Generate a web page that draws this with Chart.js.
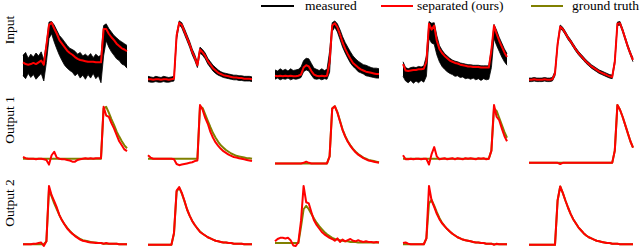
<!DOCTYPE html>
<html>
<head>
<meta charset="utf-8">
<script src="https://cdn.jsdelivr.net/npm/chart.js@4.4.0/dist/chart.umd.min.js"></script>
<style>
  body { margin: 0; width: 640px; height: 249px; overflow: hidden; background: #fff; position: relative;
         font-family: "Liberation Serif", "Times New Roman", serif; }
  canvas { position: absolute; }
  .txt { position: absolute; font-size: 13.5px; line-height: 1; white-space: nowrap; color: #000; }
  .key { position: absolute; height: 2px; }
  .rowlab { position: absolute; font-size: 13.5px; line-height: 1; white-space: nowrap;
            transform: translate(-50%, -50%) rotate(-90deg); }
</style>
</head>
<body>
<div class="key" style="left:261px;top:5px;width:33px;background:#000"></div>
<div class="txt" style="left:305px;top:-1px">measured</div>
<div class="key" style="left:381px;top:5px;width:32px;background:#ff0000"></div>
<div class="txt" style="left:417px;top:-1px">separated (ours)</div>
<div class="key" style="left:531px;top:5px;width:32px;background:#808000"></div>
<div class="txt" style="left:572px;top:-1px">ground truth</div>
<div class="rowlab" style="left:10px;top:30px">Input</div>
<div class="rowlab" style="left:10px;top:120px">Output 1</div>
<div class="rowlab" style="left:10px;top:203px">Output 2</div>
<script>
// 41 samples per trace, amplitudes in % of each row's peak
const samples = Array.from({ length: 41 }, (_, i) => i);

// Input row: separated trace + measured min/max envelope
const in1Sep = [29,26,25,26,28,26,29,32,25,58, 93,97,87,78,67,61,55,49,45,42, 38,35,33,32,31,30,30,30,29,29, 29,86,86,78,72,67,61,57,53,51,48];
const in1Hi  = [41,46,36,43,38,45,40,47,33,61, 98,99,93,84,75,70,64,58,53,51, 48,43,46,40,43,39,44,37,43,39, 41,92,95,87,81,75,71,67,64,61,58];
const in1Lo  = [6,1,10,3,8,0,5,10,-3,29, 70,78,64,52,41,32,24,19,15,12, 6,10,2,7,0,8,2,10,1,6, -6,40,66,55,47,41,35,32,26,24,19];

const in2Sep = [0,0,-1,0,0,-1,0,0,-1,0, 1,75,97,93,82,71,60,47,37,24, 51,46,40,31,25,19,15,11,9,7, 6,5,4,3,3,2,2,1,1,1,0];
const in2Hi  = [5,4,3,5,4,3,5,4,3,4, 5,78,100,97,87,76,65,52,42,29, 55,51,45,36,30,24,20,16,13,11, 10,9,8,7,7,6,6,5,5,5,4];
const in2Lo  = [-4,-5,-5,-4,-5,-5,-4,-5,-5,-4, -3,68,94,88,77,66,55,42,32,20, 45,41,35,26,20,14,10,7,5,3, 2,1,0,-1,-1,-2,-2,-3,-3,-3,-4];

const in3Sep = [6,5,6,5,6,5,6,5,5,6, 8,20,24,22,14,8,6,5,6,5, 6,30,92,96,89,77,63,52,43,35, 28,24,20,17,15,13,12,11,10,9,9];
const in3Hi  = [16,14,18,15,17,14,18,15,16,17, 21,32,36,35,27,19,17,15,18,15, 17,48,97,100,95,85,73,63,55,47, 40,35,31,28,25,24,22,20,19,19,18];
const in3Lo  = [0,2,-1,1,0,2,-1,1,0,1, 3,13,16,14,7,1,0,1,-1,1, 0,12,82,89,81,68,55,45,36,28, 22,18,13,11,9,6,5,4,3,2,2];

const in4Sep = [26,15,14,15,16,16,17,17,18,30, 95,85,92,66,52,45,40,36,32,30, 28,27,25,24,23,22,22,21,21,21, 20,20,20,20,50,92,78,66,56,46,38];
const in4Hi  = [30,20,18,20,21,20,22,21,23,40, 99,96,97,75,58,50,44,40,36,33, 31,30,28,27,26,25,25,24,24,24, 23,23,23,23,52,94,84,72,62,52,44];
const in4Lo  = [5,-3,-6,-2,-7,-3,-6,-2,-5,5, 70,62,60,42,30,22,17,13,10,8, 5,6,3,4,1,2,0,2,-1,1, -2,1,-1,0,20,70,58,48,38,30,24];

const in5Sep = [-1,-1,0,-1,-1,-1,0,-1,-1,0, 10,60,90,86,79,71,65,58,51,45, 40,35,30,26,22,19,16,13,11,9, 7,5,4,30,95,96,84,70,56,44,33];
const in5Hi  = [2,2,3,2,2,2,3,2,2,3, 14,63,93,89,82,74,68,61,54,48, 43,38,33,29,25,22,19,16,14,12, 10,8,7,34,98,99,87,73,59,47,36];
const in5Lo  = [-4,-4,-3,-4,-4,-4,-3,-4,-4,-3, 6,57,87,83,76,68,62,55,48,42, 37,32,27,23,19,16,13,10,8,6, 4,2,1,26,92,93,81,67,53,41,30];

// Output 1 row: separated vs ground truth
const o1Sep1 = [9,7,6,6,6,5,6,6,5,4, -4,12,18,8,6,5,5,4,3,1, 1,4,5,6,7,6,7,6,7,7, 7,95,80,78,67,58,47,36,29,22,19];
const o1Gt1  = [6,6,6,6,6,6,6,6,6,6, 6,6,6,6,6,6,6,6,6,6, 6,6,6,6,6,6,6,6,6,6, 6,92,95,85,74,64,53,44,36,29,24];
const o1Sep2 = [12,8,6,6,6,6,6,6,6,6, 5,-3,-5,-4,-3,-2,-1,0,2,3, 98,90,76,66,52,42,34,28,23,19, 16,13,11,9,8,7,6,5,4,3,2];
const o1Gt2  = [6,6,6,6,6,6,6,6,6,6, 6,6,6,6,6,6,6,6,6,6, 96,93,82,71,60,50,42,35,29,25, 21,18,15,13,11,10,9,8,7,7,6];
const o1Sep3 = [-2,-2,-2,-2,-2,-2,-2,-2,-2,-2, -2,-1,1,-1,-2,-2,-2,-2,-2,-2, -2,10,92,96,85,70,55,44,35,28, 22,17,13,10,7,5,3,2,1,0,-1];
const o1Gt3  = [-2,-2,-2,-2,-2,-2,-2,-2,-2,-2, -2,-2,-2,-2,-2,-2,-2,-2,-2,-2, -2,10,92,96,86,71,56,45,36,29, 23,18,14,11,8,6,4,3,2,1,0];
const o1Sep4 = [12,5,5,6,5,6,6,5,6,6, -4,14,26,10,5,6,7,5,6,7, 5,7,6,5,7,6,7,6,5,7, 6,7,5,6,20,98,78,72,58,45,36];
const o1Gt4  = [6,6,6,6,6,6,6,6,6,6, 6,6,6,6,6,6,6,6,6,6, 6,6,6,6,6,6,6,6,6,6, 6,6,6,6,20,92,88,76,64,52,42];
const o1Sep5 = [-1,-1,-1,-1,-1,-1,-1,-1,-1,-1, -1,-1,-3,-1,-1,-1,-1,-1,-1,-1, -1,-1,-1,-1,-1,-1,-1,-1,-1,-1, -1,-1,-1,20,98,90,78,64,50,36,25];
const o1Gt5  = [-1,-1,-1,-1,-1,-1,-1,-1,-1,-1, -1,-1,-1,-1,-1,-1,-1,-1,-1,-1, -1,-1,-1,-1,-1,-1,-1,-1,-1,-1, -1,-1,-1,20,98,90,78,64,50,36,25];

// Output 2 row
const o2Sep1 = [0,0,0,0,1,1,2,3,-3,5, 100,84,74,63,50,41,34,27,22,18, 14,11,8,6,5,4,3,3,2,2, 2,1,2,1,1,1,1,0,0,0,0];
const o2Gt1  = [0,0,0,0,0,0,0,0,0,5, 94,82,70,60,50,41,34,28,23,18, 15,12,9,7,6,5,4,3,3,2, 2,1,1,1,1,1,1,0,0,0,0];
const o2Sep2 = [-1,-1,-1,-1,-1,-1,-1,-1,-1,-1, 20,92,98,88,75,60,49,40,33,27, 21,18,15,12,10,8,6,5,4,3, 3,2,2,1,1,1,1,0,0,0,0];
const o2Gt2  = [-1,-1,-1,-1,-1,-1,-1,-1,-1,-1, 18,90,97,87,74,60,49,40,33,27, 22,18,15,12,10,8,6,5,4,3, 3,2,2,1,1,1,1,0,0,0,0];
const o2Sep3 = [5,9,11,11,10,11,7,-2,-3,4, 40,100,72,70,55,41,33,27,21,17, 14,11,9,6,10,4,8,5,7,9, 6,5,7,5,4,5,4,4,3,4,3];
const o2Gt3  = [2,2,2,2,2,2,2,2,2,2, 30,60,66,60,52,44,37,31,26,21, 17,14,11,9,8,7,6,5,5,4, 4,4,3,3,3,3,3,3,3,3,3];
const o2Sep4 = [2,3,1,0,0,0,0,0,0,10, 100,75,64,52,43,36,31,26,22,18, 15,12,10,8,7,6,5,4,3,3, 2,2,1,1,1,-1,1,0,0,0,0];
const o2Gt4  = [0,0,0,0,0,0,0,0,0,10, 70,76,66,55,45,37,31,26,22,18, 15,12,10,8,7,6,5,4,3,3, 2,2,1,1,1,0,0,0,0,0,0];
const o2Sep5 = [-1,-1,-1,-1,-1,-1,-1,-1,-1,-1, -1,75,99,88,75,63,52,43,36,29, 24,19,15,12,10,8,6,5,4,3, 2,2,1,1,1,0,0,0,0,0,0];
const o2Gt5  = [-1,-1,-1,-1,-1,-1,-1,-1,-1,-1, -1,75,99,88,75,63,52,43,36,29, 24,19,15,12,10,8,6,5,4,3, 2,2,1,1,1,0,0,0,0,0,0];

const RED = '#ff0000', OLIVE = '#808000';
const colLeft = [23, 148, 275, 403, 529];
const rowTop = [12, 95, 177];
const PAD = { left: 3, right: 3, top: 6, bottom: 6 };

function sep(data) {
  return { data, borderColor: RED, borderWidth: 2, order: 0 };
}
function truth(data) {
  return { data, borderColor: OLIVE, borderWidth: 2, order: 1 };
}
function band(hi, lo) {
  return [
    { data: hi, borderColor: '#000', borderWidth: 0.8, backgroundColor: '#000', fill: '+1', order: 2 },
    { data: lo, borderColor: '#000', borderWidth: 0.8, fill: false, order: 2 }
  ];
}

function makePanel(row, col, datasets) {
  const cv = document.createElement('canvas');
  cv.width = 104 + PAD.left + PAD.right;
  cv.height = 70 + PAD.top + PAD.bottom;
  cv.style.left = (colLeft[col] - PAD.left) + 'px';
  cv.style.top = rowTop[row] + 'px';
  cv.style.width = cv.width + 'px';
  cv.style.height = cv.height + 'px';
  document.body.appendChild(cv);
  new Chart(cv, {
    type: 'line',
    data: { labels: samples, datasets },
    options: {
      responsive: false,
      animation: false,
      devicePixelRatio: 1,
      layout: { padding: PAD },
      elements: { point: { radius: 0 }, line: { tension: 0, borderJoinStyle: 'round' } },
      datasets: { line: { clip: false } },
      plugins: { legend: { display: false }, tooltip: { enabled: false } },
      scales: {
        x: { display: false },
        y: { display: false, min: -15, max: 105 }
      }
    }
  });
}

const inputs = [[in1Sep, in1Hi, in1Lo], [in2Sep, in2Hi, in2Lo], [in3Sep, in3Hi, in3Lo], [in4Sep, in4Hi, in4Lo], [in5Sep, in5Hi, in5Lo]];
inputs.forEach(([s, hi, lo], c) => makePanel(0, c, [sep(s), ...band(hi, lo)]));

const out1 = [[o1Sep1, o1Gt1], [o1Sep2, o1Gt2], [o1Sep3, o1Gt3], [o1Sep4, o1Gt4], [o1Sep5, o1Gt5]];
out1.forEach(([s, g], c) => makePanel(1, c, [sep(s), truth(g)]));

const out2 = [[o2Sep1, o2Gt1], [o2Sep2, o2Gt2], [o2Sep3, o2Gt3], [o2Sep4, o2Gt4], [o2Sep5, o2Gt5]];
out2.forEach(([s, g], c) => makePanel(2, c, [sep(s), truth(g)]));
</script>
</body>
</html>
